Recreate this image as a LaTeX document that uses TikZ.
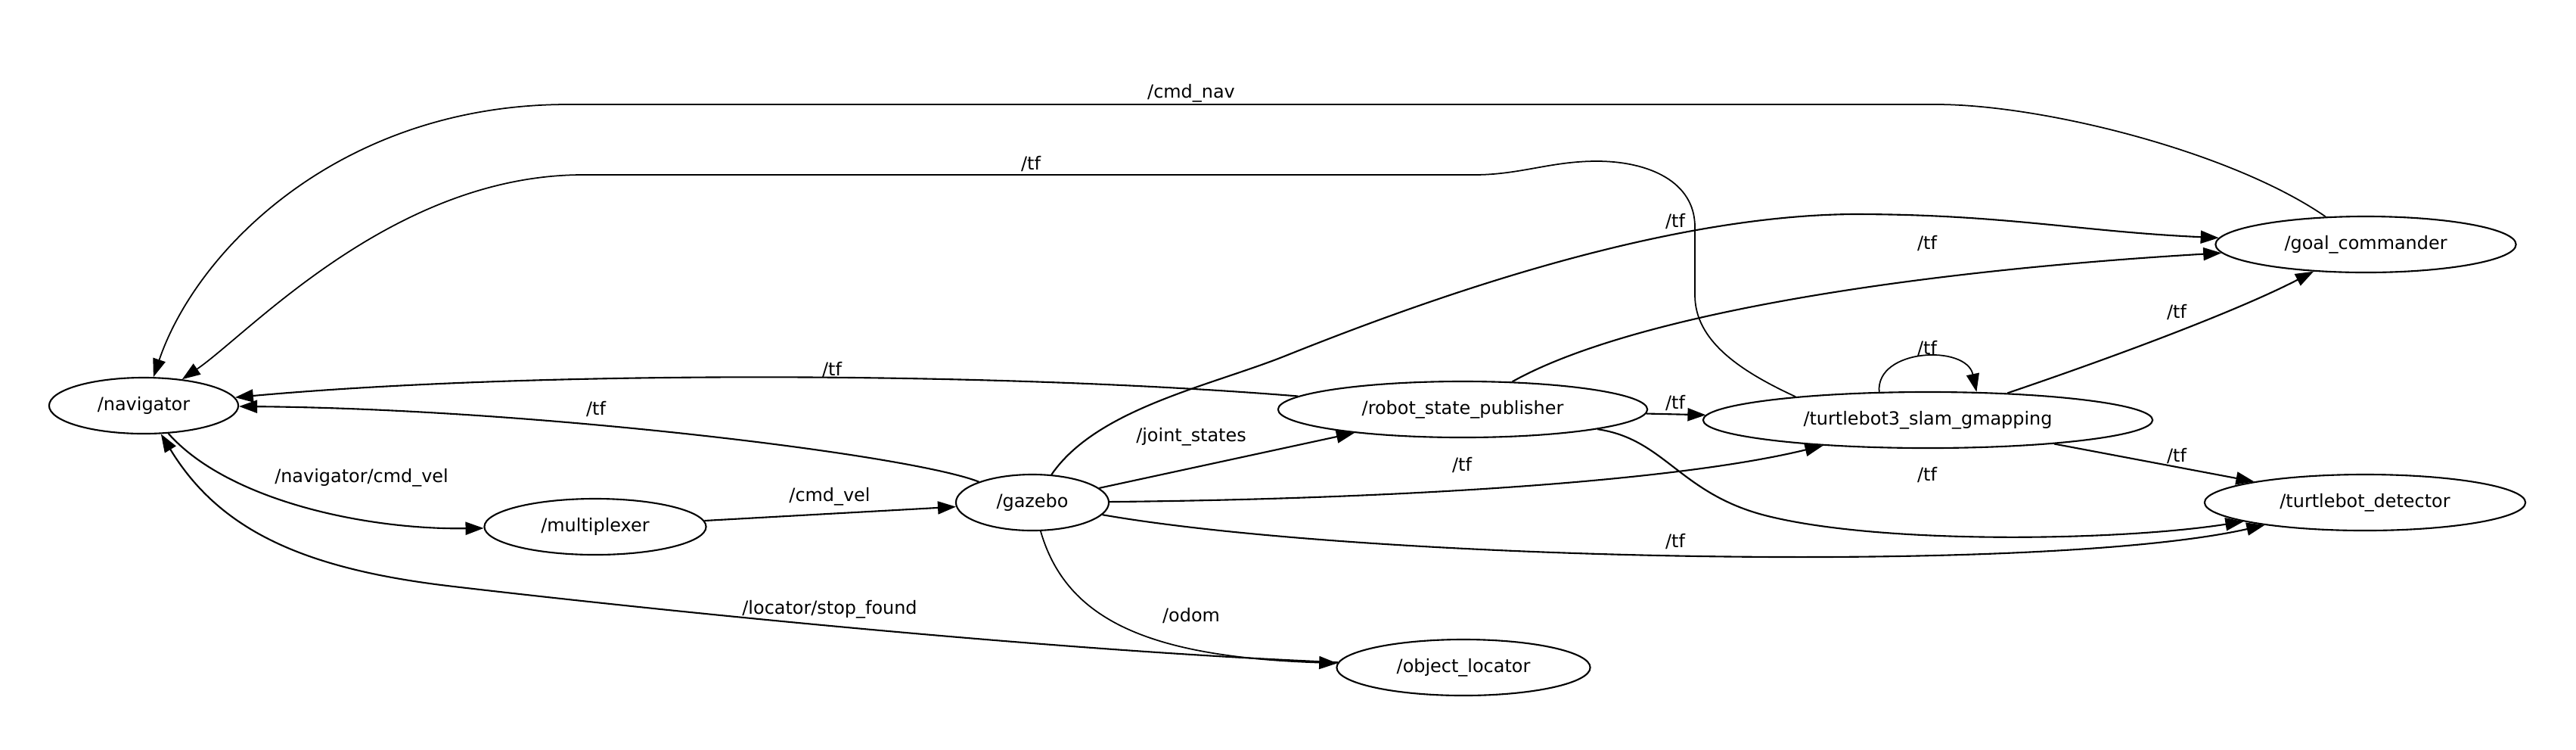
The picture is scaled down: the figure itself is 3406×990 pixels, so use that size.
\documentclass[tikz,border=0pt]{standalone}
\usepackage{fontspec}
\setmainfont{DejaVu Sans}
\usetikzlibrary{arrows.meta,shapes.geometric}

\begin{document}
\begin{tikzpicture}[x=0.01cm,y=-0.01cm,
    every node/.style={font=\fontsize{6.8}{8}\selectfont},
    rosnode/.style={draw,ellipse,line width=0.6pt,inner sep=0pt,minimum height=0.74cm},
    topic/.style={inner sep=0pt},
    topicarrow/.style={draw,line width=0.6pt,-{Triangle[length=0.24cm,width=0.17cm]}},
    thinarrow/.style={topicarrow,line width=0.5pt}]
    \useasboundingbox (0,0) rectangle (3406,990);
    \node[rosnode,minimum width=2.50cm] (nav) at (190,536) {/navigator};
    \node[rosnode,minimum width=2.93cm] (mux) at (787,696) {/multiplexer};
    \node[rosnode,minimum width=2.02cm] (gaz) at (1365,664) {/gazebo};
    \node[rosnode,minimum width=4.88cm] (rsp) at (1934,541) {/robot\_state\_publisher};
    \node[rosnode,minimum width=5.94cm] (slam) at (2549,555) {/turtlebot3\_slam\_gmapping};
    \node[rosnode,minimum width=3.97cm] (gc) at (3128,323) {/goal\_commander};
    \node[rosnode,minimum width=4.24cm] (det) at (3127,664) {/turtlebot\_detector};
    \node[rosnode,minimum width=3.35cm] (loc) at (1935,882) {/object\_locator};
    \draw[thinarrow] (gc) .. controls (2950,200) and (2700,138) .. (2560,138) -- (751,138) .. controls (450,138) and (260,330) .. (nav);
    \node[topic] (t-cmdnav) at (1575,123) {/cmd\_nav};
    \draw[thinarrow] (slam.170) .. controls (2300,490) and (2241,450) .. (2241,390) -- (2241,300) .. controls (2241,240) and (2180,213) .. (2111,213) .. controls (2050,213) and (2010,231) .. (1949,231) -- (771,231) .. controls (520,231) and (330,440) .. (nav);
    \node[topic] (t-slamnav) at (1363,217) {/tf};
    \draw[topicarrow] (rsp) .. controls (1300,490) and (700,490) .. (nav);
    \node[topic] (t-rspnav) at (1100,489) {/tf};
    \draw[topicarrow] (gaz) .. controls (1200,600) and (700,540) .. (nav);
    \node[topic] (t-gaznav) at (788,541) {/tf};
    \draw[topicarrow] (nav) .. controls (300,660) and (480,700) .. (mux);
    \node[topic] (t-navvel) at (478,631) {/navigator/cmd\_vel};
    \draw[topicarrow] (mux) -- (gaz);
    \node[topic] (t-cmdvel) at (1097,656) {/cmd\_vel};
    \draw[topicarrow] (loc) .. controls (1400,860) and (900,810) .. (600,775) .. controls (400,752) and (290,700) .. (nav);
    \node[topic] (t-stop) at (1097,805) {/locator/stop\_found};
    \draw[topicarrow] (gaz) -- (rsp);
    \node[topic] (t-joint) at (1575,577) {/joint\_states};
    \draw[topicarrow] (gaz) .. controls (1800,660) and (2200,640) .. (slam);
    \node[topic] (t-gazslam) at (1933,615) {/tf};
    \draw[topicarrow] (gaz) .. controls (1800,740) and (2700,760) .. (det);
    \node[topic] (t-gazdet) at (2215,716) {/tf};
    \draw[topicarrow] (gaz) .. controls (1450,540) and (1600,510) .. (1700,470) .. controls (1900,390) and (2200,285) .. (2450,283) .. controls (2650,283) and (2750,306) .. (gc);
    \node[topic] (t-gazgc) at (2215,293) {/tf};
    \draw[thinarrow] (gaz) .. controls (1410,820) and (1520,868) .. (loc);
    \node[topic] (t-odom) at (1575,814) {/odom};
    \draw[topicarrow] (rsp) .. controls (2150,420) and (2500,360) .. (gc);
    \node[topic] (t-rspgc) at (2548,322) {/tf};
    \draw[topicarrow] (rsp) -- (slam);
    \node[topic] (t-rspslam) at (2215,533) {/tf};
    \draw[topicarrow] (rsp) .. controls (2200,580) and (2220,650) .. (2330,680) .. controls (2480,720) and (2800,715) .. (det);
    \node[topic] (t-rspdet) at (2548,628) {/tf};
    \draw[thinarrow] (slam.150) .. controls (2480,460) and (2600,455) .. (slam.30);
    \node[topic] (t-self) at (2548,461) {/tf};
    \draw[topicarrow] (slam) .. controls (2800,470) and (2960,410) .. (gc);
    \node[topic] (t-slamgc) at (2878,413) {/tf};
    \draw[topicarrow] (slam) -- (det);
    \node[topic] (t-slamdet) at (2878,603) {/tf};
\end{tikzpicture}
\end{document}
